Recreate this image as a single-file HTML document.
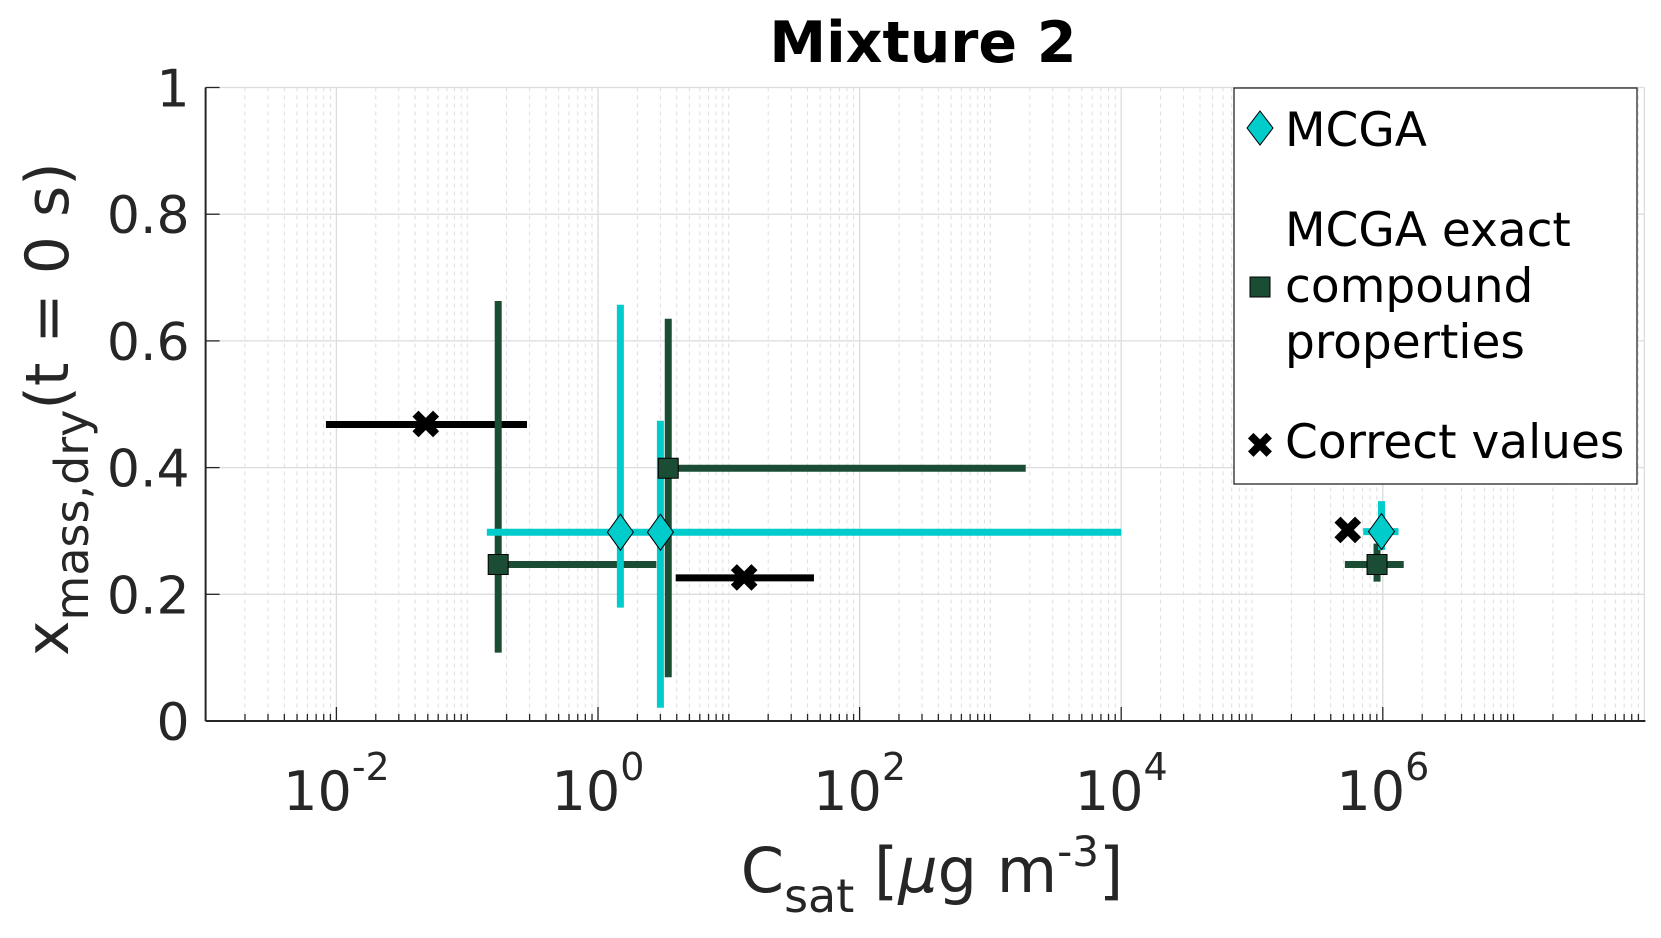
<!DOCTYPE html>
<html><head><meta charset="utf-8"><style>
html,body{margin:0;padding:0;background:#fff}
svg{display:block;font-family:"DejaVu Sans","Liberation Sans",sans-serif}
</style></head><body>
<svg id="chart" width="1661" height="938" viewBox="0 0 1661 938" xmlns="http://www.w3.org/2000/svg">
<rect width="1661" height="938" fill="#fff"/>
<g id="grid"></g>
<g id="axes"></g>
<g id="series"></g>
<text x="923" y="62" text-anchor="middle" font-size="57" font-weight="bold" fill="#000">Mixture 2</text>
<text x="932" y="892" text-anchor="middle" font-size="62" fill="#262626">C<tspan font-size="46" dy="20">sat</tspan><tspan dy="-20"> [</tspan><tspan font-style="italic">μ</tspan>g m<tspan font-size="42" dy="-26">-3</tspan><tspan dy="26">]</tspan></text>
<text transform="translate(68,656) rotate(-90)" font-size="60" fill="#262626">x<tspan font-size="46" dy="20">mass,dry</tspan><tspan dy="-20">(t = 0 s)</tspan></text>
<g>
<rect x="1234" y="88" width="403" height="396" fill="#fff" stroke="#262626" stroke-width="1.3"/>
<polygon points="1260,111 1273,128 1260,145 1247,128" fill="#00CCCC" stroke="#000" stroke-width="1"/>
<text x="1285" y="146" font-size="47" fill="#000">MCGA</text>
<rect x="1250" y="277" width="20" height="20" fill="#1B4D35" stroke="#000" stroke-width="1"/>
<text font-size="47" fill="#000"><tspan x="1285" y="246">MCGA exact</tspan><tspan x="1285" y="302">compound</tspan><tspan x="1285" y="358">properties</tspan></text>
<text x="1260" y="458" text-anchor="middle" font-size="36" font-weight="bold" fill="#000">✖</text>
<text x="1285" y="458" font-size="47" fill="#000">Correct values</text>
</g>
</svg>
<script>
// Data (log10 of C_sat, mass fraction)
const mcgaLogX = [0.171, 0.477, 5.99];
const mcgaY = [0.298, 0.298, 0.299];
const mcgaXlo = [0.171, -0.85, 5.85];
const mcgaXhi = [0.171, 4.0, 6.12];
const mcgaYlo = [0.179, 0.021, 0.27];
const mcgaYhi = [0.657, 0.474, 0.347];

const exactLogX = [-0.763, 0.537, 5.956];
const exactY = [0.247, 0.399, 0.247];
const exactXlo = [-0.763, 0.537, 5.71];
const exactXhi = [0.446, 3.27, 6.16];
const exactYlo = [0.108, 0.069, 0.22];
const exactYhi = [0.663, 0.635, 0.28];

const correctLogX = [-1.317, 1.117, 5.732];
const correctY = [0.468, 0.226, 0.301];
const correctXlo = [-2.08, 0.594, 5.732];
const correctXhi = [-0.543, 1.651, 5.732];

const xTickExp = [-2, 0, 2, 4, 6];
const yTicks = [0, 0.2, 0.4, 0.6, 0.8, 1];
const yTickLabels = ["0", "0.2", "0.4", "0.6", "0.8", "1"];

const X0 = 205.6, DEC = 130.8, LMIN = -3, LMAX = 8;
const YB = 721, YH = 633.5;
function sx(l){ return X0 + (l - LMIN) * DEC; }
function sy(v){ return YB - v * YH; }
const NS = "http://www.w3.org/2000/svg";
function mk(tag, attrs, parent){
  const e = document.createElementNS(NS, tag);
  for (const k in attrs) e.setAttribute(k, attrs[k]);
  parent.appendChild(e); return e;
}
const grid = document.getElementById('grid');
const axes = document.getElementById('axes');
const series = document.getElementById('series');
const XR = sx(LMAX), YT = sy(1);

for (let d = LMIN; d < LMAX; d++) {
  for (let m = 1; m <= 9; m++) {
    const l = d + Math.log10(m);
    const x = sx(l);
    const major = (m === 1 && d % 2 === 0);
    if (major) {
      const g = mk('line', {x1:x, x2:x, y1:YT, y2:YB, stroke:'#dcdcdc', 'stroke-width':1.3}, grid);
      
      
    } else {
      const g = mk('line', {x1:x, x2:x, y1:YT, y2:YB, stroke:'#dedede', 'stroke-width':1, 'stroke-dasharray':'4,4'}, grid);
      
      
    }
    const t = mk('line', {x1:x, x2:x, y1:YB, y2:YB - (major ? 14 : 7), stroke:'#262626', 'stroke-width':1.3}, axes);
    
    
  }
}
yTicks.forEach((v, i) => {
  const y = sy(v);
  if (v > 0) {
    const g = mk('line', {x1:X0, x2:XR, y1:y, y2:y, stroke:'#dcdcdc', 'stroke-width':1.3}, grid);
    
    
  }
  const t = mk('line', {x1:X0, x2:X0 + 14, y1:y, y2:y, stroke:'#262626', 'stroke-width':1.3}, axes);
  
  
  const lb = mk('text', {x:X0 - 16, y:y + 19, 'text-anchor':'end', 'font-size':52, fill:'#262626'}, axes);
  
  
  lb.textContent = yTickLabels[i];
});
mk('line', {x1:XR, x2:XR, y1:YT, y2:YB, stroke:'#dcdcdc', 'stroke-width':1.3}, grid);
const ax1 = mk('line', {x1:X0, x2:XR + 1, y1:YB, y2:YB, stroke:'#262626', 'stroke-width':2}, axes);


const ax2 = mk('line', {x1:X0, x2:X0, y1:YT, y2:YB, stroke:'#262626', 'stroke-width':2}, axes);


xTickExp.forEach(e => {
  const x = sx(e);
  const tx = mk('text', {x:x, y:810, 'text-anchor':'middle', 'font-size':54, fill:'#262626'}, axes);
  
  
  const s1 = mk('tspan', {}, tx); s1.textContent = '10';
  const s2 = mk('tspan', {dy:-30, 'font-size':38}, tx); s2.textContent = String(e);
});

function errbars(lx, y, xlo, xhi, ylo, yhi, color, name){
  for (let i = 0; i < lx.length; i++) {
    if (xhi[i] !== xlo[i]) {
      const h = mk('line', {x1:sx(xlo[i]), x2:sx(xhi[i]), y1:sy(y[i]), y2:sy(y[i]), stroke:color, 'stroke-width':7}, series);
      
      
    }
    if (ylo && yhi[i] !== ylo[i]) {
      const v = mk('line', {x1:sx(lx[i]), x2:sx(lx[i]), y1:sy(ylo[i]), y2:sy(yhi[i]), stroke:color, 'stroke-width':7}, series);
      
      
    }
  }
}
errbars(correctLogX, correctY, correctXlo, correctXhi, null, null, '#000', 'correct');
errbars(exactLogX, exactY, exactXlo, exactXhi, exactYlo, exactYhi, '#1B4D35', 'exact');
errbars(mcgaLogX, mcgaY, mcgaXlo, mcgaXhi, mcgaYlo, mcgaYhi, '#00CCCC', 'mcga');

exactLogX.forEach((l, i) => {
  const x = sx(l), y = sy(exactY[i]);
  const r = mk('rect', {x:x - 10, y:y - 10, width:20, height:20, fill:'#1B4D35', stroke:'#000', 'stroke-width':1}, series);
  
  
});
mcgaLogX.forEach((l, i) => {
  const x = sx(l), y = sy(mcgaY[i]);
  const p = mk('polygon', {points:`${x},${y-18} ${x+13},${y} ${x},${y+18} ${x-13},${y}`, fill:'#00CCCC', stroke:'#000', 'stroke-width':1}, series);
  
  
});
correctLogX.forEach((l, i) => {
  const x = sx(l), y = sy(correctY[i]);
  const t = mk('text', {x:x, y:y + 14, 'text-anchor':'middle', 'font-size':40, 'font-weight':'bold', fill:'#000'}, series);
  
  
  t.textContent = '✖';
});
</script>
</body></html>
